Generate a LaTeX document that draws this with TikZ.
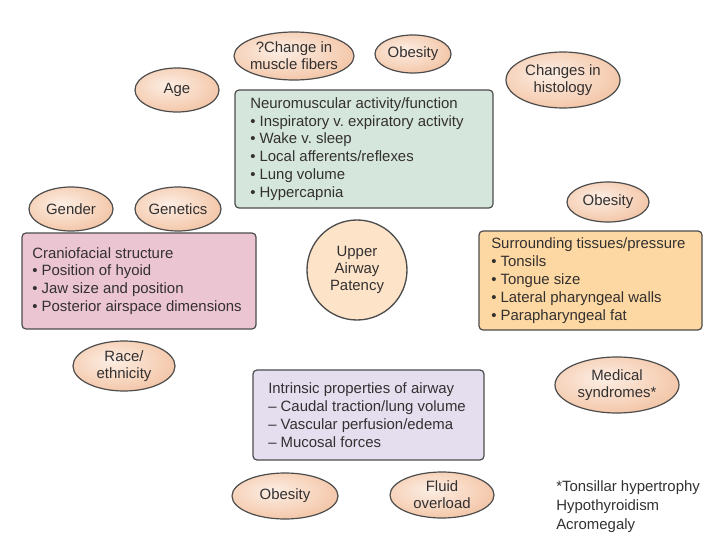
\documentclass[tikz,border=0pt]{standalone}
\usepackage{fontspec}
\setmainfont{Liberation Sans}
\usetikzlibrary{shapes.geometric}
\frenchspacing

\definecolor{txt}{HTML}{333030}
\definecolor{edge}{HTML}{4C4C4C}
\definecolor{greenbox}{HTML}{D5E6DC}
\definecolor{pinkbox}{HTML}{ECC5D2}
\definecolor{orangebox}{HTML}{FDD8A2}
\definecolor{purplebox}{HTML}{E4DEEF}
\definecolor{centrefill}{HTML}{FDE4C9}
\definecolor{ellin}{HTML}{FCEEE4}
\definecolor{ellmid}{HTML}{F6D1B8}
\definecolor{ellout}{HTML}{EAAB82}

% soft peach gradient for the factor ellipses
\pgfdeclareradialshading{peach}{\pgfpoint{-6bp}{6bp}}{%
  color(0bp)=(ellin); color(22bp)=(ellmid); color(48bp)=(ellout); color(75bp)=(ellout)}

\tikzset{
  every node/.style={text=txt, font=\fontsize{11.2}{13.4}\selectfont},
  factorbox/.style={rectangle, draw=edge, line width=0.9pt, rounded corners=3pt,
    outer sep=0pt, inner sep=0pt},
  boxtext/.style={anchor=west, align=left, inner sep=0pt},
  factor/.style={ellipse, draw=edge, line width=0.9pt, shading=peach,
    inner sep=0pt, outer sep=0pt},
  factortext/.style={align=center, inner sep=0pt,
    font=\fontsize{11.2}{12.8}\selectfont},
  hub/.style={circle, draw=edge, line width=1pt, fill=centrefill,
    minimum size=75pt, inner sep=0pt, align=center,
    font=\fontsize{11.2}{13}\selectfont},
  note/.style={align=left, anchor=north west, inner sep=0pt,
    font=\fontsize{11.2}{14.4}\selectfont}
}

% \factornode{name}{x}{y}{rx}{ry}{text}
\newcommand{\factornode}[6]{%
  \node[factor, minimum width=#4*1.5pt, minimum height=#5*1.5pt] (#1) at (#2,#3) {};
  \node[factortext] (#1-t) at (#1) {#6};
}

\begin{document}
\begin{tikzpicture}[x=0.75pt, y=-0.75pt]
\useasboundingbox (0,0) rectangle (715,535);

% central hub
\node[hub] (uap) at (357,270) {Upper\\Airway\\Patency};

% grouped determinants: framed box, then its list set from the left edge
\node[factorbox, fill=greenbox, minimum width=193.5pt, minimum height=88.5pt]
  (neuro) at (364,149) {};
\node[boxtext] (neuro-t) at ([xshift=11.25pt]neuro.west)
  {Neuromuscular activity/function\\
   • Inspiratory v. expiratory activity\\
   • Wake v. sleep\\
   • Local afferents/reflexes\\
   • Lung volume\\
   • Hypercapnia};

\node[factorbox, fill=pinkbox, minimum width=175.5pt, minimum height=72pt]
  (cranio) at (139,281) {};
\node[boxtext] (cranio-t) at ([xshift=7.5pt]cranio.west)
  {Craniofacial structure\\
   • Position of hyoid\\
   • Jaw size and position\\
   • Posterior airspace dimensions};

\node[factorbox, fill=orangebox, minimum width=167.25pt, minimum height=74.25pt]
  (tissue) at (590.5,280.5) {};
\node[boxtext] (tissue-t) at ([xshift=9pt]tissue.west)
  {Surrounding tissues/pressure\\
   • Tonsils\\
   • Tongue size\\
   • Lateral pharyngeal walls\\
   • Parapharyngeal fat};

\node[factorbox, fill=purplebox, minimum width=173.25pt, minimum height=67.5pt]
  (intrinsic) at (368.5,415) {};
\node[boxtext] (intrinsic-t) at ([xshift=11.25pt]intrinsic.west)
  {Intrinsic properties of airway\\
   – Caudal traction/lung volume\\
   – Vascular perfusion/edema\\
   – Mucosal forces};

% contributing factors
\factornode{fibers}{294}{56}{60}{24}{?Change in\\muscle fibers}
\factornode{obtop}{413}{54}{38}{19}{Obesity}
\factornode{histo}{563}{80}{57}{28}{Changes in\\histology}
\factornode{age}{177}{90}{42}{22}{Age}
\factornode{gender}{71}{209}{42}{22}{Gender}
\factornode{genetics}{178}{209}{43}{22}{Genetics}
\factornode{obright}{608}{202}{41}{20}{Obesity}
\factornode{race}{124}{366}{51}{25}{Race/\\ethnicity}
\factornode{medical}{617}{385}{62}{28}{Medical\\syndromes*}
\factornode{obbottom}{285}{496}{53}{23}{Obesity}
\factornode{fluid}{442}{495}{52}{23}{Fluid\\overload}

% footnote for the medical syndromes
\node[note] (foot) at (556,480)
  {*Tonsillar hypertrophy\\Hypothyroidism\\Acromegaly};
\end{tikzpicture}
\end{document}
